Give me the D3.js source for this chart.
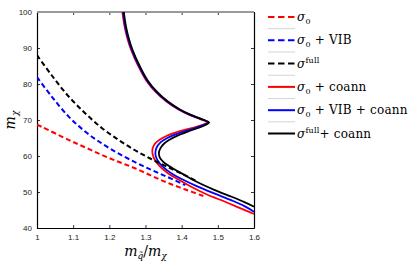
<!DOCTYPE html>
<html>
<head>
<meta charset="utf-8">
<script src="https://cdn.jsdelivr.net/npm/d3@7"></script>
<style>
  body { margin: 0; background: #fff; }
  .tick text { font-family: Arial, "Liberation Sans", sans-serif; font-size: 8px; fill: #222; }
  .math { font-family: "DejaVu Serif", "Liberation Serif", serif; }
</style>
</head>
<body>
<script>

// Chart values
var xTicks = [1, 1.1, 1.2, 1.3, 1.4, 1.5, 1.6];
var yTicks = [40, 50, 60, 70, 80, 90, 100];

// dashed curves (no coannihilation)
var sigma0 = [[1.0, 68.7], [1.013, 68.1], [1.087, 64.5], [1.133, 62.4], [1.179, 60.3], [1.225, 58.4], [1.271, 56.6], [1.317, 54.5], [1.36, 52.6], [1.41, 50.7], [1.46, 48.9]];
var sigma0Vib = [[1.0, 81.9], [1.04, 76.6], [1.087, 71.0], [1.133, 66.8], [1.179, 63.5], [1.225, 60.7], [1.271, 58.3], [1.317, 56.1], [1.36, 54.2], [1.41, 51.9]];
var sigmaFull = [[1.0, 88.0], [1.04, 82.5], [1.087, 76.6], [1.133, 71.9], [1.179, 67.8], [1.225, 64.5], [1.271, 61.6], [1.317, 59.1], [1.36, 57.0], [1.41, 54.6], [1.44, 53.1]];

// solid curves (with coannihilation)
var sigma0Coann = [[1.236, 100], [1.242, 96], [1.249, 93], [1.26, 89.5], [1.28, 85], [1.302, 81], [1.328, 77.8], [1.357, 75.2], [1.39, 73], [1.42, 71.5], [1.45, 70.3], [1.472, 69.4],
  [1.462, 68.8], [1.44, 68.1], [1.41, 67.3], [1.38, 66.4], [1.355, 65.4], [1.337, 64.4], [1.326, 63.4], [1.32, 62.2], [1.319, 60.9], [1.323, 59.5], [1.332, 58.0], [1.346, 56.5],
  [1.364, 55.1], [1.387, 53.7], [1.42, 51.8], [1.47, 49.3], [1.52, 47.3], [1.56, 45.6], [1.6, 43.9]];
var sigma0VibCoann = [[1.238, 100], [1.244, 96], [1.251, 93], [1.262, 89.5], [1.282, 85], [1.304, 81], [1.33, 77.8], [1.359, 75.2], [1.392, 73], [1.422, 71.5], [1.452, 70.3], [1.473, 69.35],
  [1.463, 68.7], [1.441, 67.9], [1.412, 67.0], [1.383, 66.0], [1.36, 65], [1.344, 64.0], [1.333, 62.8], [1.328, 61.5], [1.328, 60.1], [1.334, 58.7], [1.345, 57.3], [1.36, 56.0],
  [1.378, 54.8], [1.40, 53.6], [1.44, 51.7], [1.49, 49.6], [1.54, 47.6], [1.575, 46], [1.6, 44.5]];
var sigmaFullCoann = [[1.24, 100], [1.246, 96], [1.253, 93], [1.264, 89.5], [1.284, 85], [1.306, 81], [1.332, 77.8], [1.361, 75.2], [1.394, 73], [1.424, 71.5], [1.454, 70.3], [1.476, 69.3],
  [1.466, 68.6], [1.443, 67.7], [1.415, 66.7], [1.387, 65.6], [1.366, 64.5], [1.351, 63.4], [1.341, 62.1], [1.337, 60.8], [1.34, 59.5], [1.35, 58.3], [1.365, 57.2], [1.382, 56.2],
  [1.405, 54.9], [1.44, 52.9], [1.49, 50.6], [1.54, 48.6], [1.575, 47.1], [1.6, 45.9]];

var seriesColors = ["#ff0000", "#0000ff", "#000000", "#ff0000", "#0000ff", "#000000"];
var seriesDashed = [true, true, true, false, false, false];
var seriesData = [sigma0, sigma0Vib, sigmaFull, sigma0Coann, sigma0VibCoann, sigmaFullCoann];

// legend labels: [base, script, script type, rest]
var legendLabels = [
  ["σ", "0", "sub", ""],
  ["σ", "0", "sub", " + VIB"],
  ["σ", "full", "sup", ""],
  ["σ", "0", "sub", " + coann"],
  ["σ", "0", "sub", " + VIB + coann"],
  ["σ", "full", "sup", "+ coann"]
];

var width = 415, height = 265;
var margin = {top: 12, right: 161, bottom: 37, left: 37};
var w = width - margin.left - margin.right,
    h = height - margin.top - margin.bottom;

var svg = d3.select("body").append("svg")
  .attr("width", width)
  .attr("height", height);

var g = svg.append("g")
  .attr("transform", "translate(" + margin.left + "," + margin.top + ")");

var x = d3.scaleLinear().domain([1, 1.6]).range([0, w]);
var y = d3.scaleLinear().domain([40, 100]).range([h, 0]);

// axes, matlab style ticks pointing inward
g.append("g")
  .attr("class", "axis x")
  .attr("transform", "translate(0," + h + ")")
  .call(d3.axisBottom(x).tickValues(xTicks).tickFormat(d3.format("")).tickSizeInner(-3).tickSizeOuter(0).tickPadding(6));

g.append("g")
  .attr("class", "axis y")
  .call(d3.axisLeft(y).tickValues(yTicks).tickSizeInner(-3).tickSizeOuter(0).tickPadding(5));

g.append("g")
  .call(d3.axisTop(x).tickValues(xTicks).tickFormat("").tickSizeInner(-3).tickSizeOuter(0));

g.append("g")
  .attr("transform", "translate(" + w + ",0)")
  .call(d3.axisRight(y).tickValues(yTicks).tickFormat("").tickSizeInner(-3).tickSizeOuter(0));

g.selectAll(".domain").attr("stroke", "#000").attr("stroke-width", 1.2);
g.selectAll(".tick line").attr("stroke", "#000").attr("stroke-width", 0.8);

// top border looks grey
g.append("line")
  .attr("x1", 0).attr("x2", w).attr("y1", 0).attr("y2", 0)
  .attr("stroke", "#999").attr("stroke-width", 2);

var line = d3.line()
  .x(function(d) { return x(d[0]); })
  .y(function(d) { return y(d[1]); })
  .curve(d3.curveCatmullRom.alpha(0.5));

g.append("defs").append("clipPath").attr("id", "clip")
  .append("rect").attr("width", w).attr("height", h);

var curves = g.append("g").attr("clip-path", "url(#clip)");

// draw solid first, dashed on top
[3, 4, 5, 0, 1, 2].forEach(function(i) {
  curves.append("path")
    .datum(seriesData[i])
    .attr("d", line)
    .attr("fill", "none")
    .attr("stroke", seriesColors[i])
    .attr("stroke-width", seriesDashed[i] ? 2 : 1.8)
    .attr("stroke-dasharray", seriesDashed[i] ? "5,3" : null);
});

// axis labels
var xl = svg.append("text")
  .attr("class", "math")
  .attr("x", margin.left + w / 2)
  .attr("y", 256)
  .attr("text-anchor", "middle")
  .attr("font-size", 14)
  .attr("font-style", "italic");
xl.append("tspan").text("m");
xl.append("tspan").attr("font-size", 9).attr("dy", 3).text("q̃");
xl.append("tspan").attr("dy", -3).attr("font-style", "normal").text("/");
xl.append("tspan").text("m");
xl.append("tspan").attr("font-size", 9).attr("dy", 3).text("χ");

var yl = svg.append("text")
  .attr("class", "math")
  .attr("transform", "translate(15," + (margin.top + h / 2) + ") rotate(-90)")
  .attr("text-anchor", "middle")
  .attr("font-size", 14)
  .attr("font-style", "italic");
yl.append("tspan").text("m");
yl.append("tspan").attr("font-size", 9).attr("dy", 3).text("χ");

// legend
var legend = svg.append("g").attr("transform", "translate(268,17)");
var rowH = 23.3;

legendLabels.forEach(function(lab, i) {
  var row = legend.append("g").attr("transform", "translate(0," + (i * rowH) + ")");
  row.append("line")
    .attr("x1", 0).attr("x2", 27).attr("y1", 0).attr("y2", 0)
    .attr("stroke", seriesColors[i])
    .attr("stroke-width", 2)
    .attr("stroke-dasharray", seriesDashed[i] ? "6.5,3.5" : null);
  if (i < legendLabels.length - 1) {
    row.append("line")
      .attr("x1", 0).attr("x2", 27).attr("y1", rowH / 2).attr("y2", rowH / 2)
      .attr("stroke", "#d4d4d4").attr("stroke-width", 1);
  }
  var t = row.append("text")
    .attr("class", "math")
    .attr("x", 29).attr("y", 4)
    .attr("font-size", 12)
    .attr("letter-spacing", 0.2)
    .style("white-space", "pre");
  t.append("tspan").attr("font-style", "italic").text(lab[0]);
  if (lab[2] === "sub") {
    t.append("tspan").attr("font-size", 8).attr("dy", 3).text(lab[1]);
    t.append("tspan").attr("dy", -3).text(lab[3]);
  } else {
    t.append("tspan").attr("font-size", 8).attr("dy", -5).text(lab[1]);
    t.append("tspan").attr("dy", 5).text(lab[3]);
  }
});

</script>
</body>
</html>
